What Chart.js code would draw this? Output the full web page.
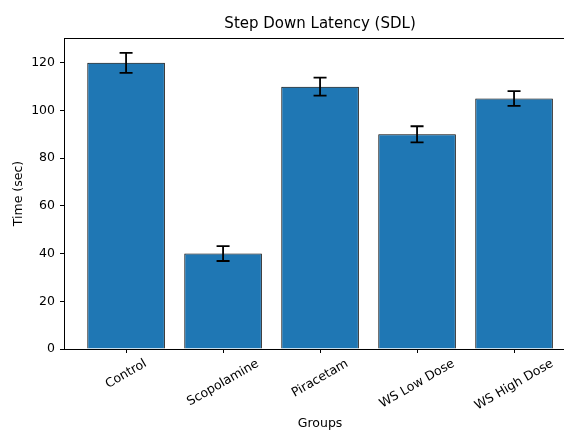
<!DOCTYPE html>
<html>
<head>
<meta charset="utf-8">
<script src="https://cdn.jsdelivr.net/npm/chart.js@4/dist/chart.umd.min.js"></script>
<style>
html,body{margin:0;padding:0;overflow:hidden;background:#fff;}
canvas{display:block;}
</style>
</head>
<body>
<canvas id="c" width="564" height="430"></canvas>
<script>
const categories = ["Control", "Scopolamine", "Piracetam", "WS Low Dose", "WS High Dose"];
const means = [120, 40, 110, 90, 105];
const errors = [4.2, 3.1, 3.8, 3.4, 3.1];
const yTicks = [0, 20, 40, 60, 80, 100, 120];
const chartTitle = "Step Down Latency (SDL)";
const xTitle = "Groups";
const yTitle = "Time (sec)";

Chart.defaults.font.family = "'DejaVu Sans'";
Chart.defaults.color = "#000";

const errorBars = {
  id: 'errorBars',
  afterDatasetsDraw(chart) {
    const ctx = chart.ctx, xs = chart.scales.x, ys = chart.scales.y;
    ctx.save();
    ctx.strokeStyle = '#000';
    ctx.lineWidth = 1.8;
    means.forEach((m, i) => {
      const x = xs.getPixelForValue(i);
      const yt = ys.getPixelForValue(m + errors[i]);
      const yb = ys.getPixelForValue(m - errors[i]);
      ctx.beginPath();
      ctx.moveTo(x, yt); ctx.lineTo(x, yb);
      ctx.moveTo(x - 6.5, yt); ctx.lineTo(x + 6.5, yt);
      ctx.moveTo(x - 6.5, yb); ctx.lineTo(x + 6.5, yb);
      ctx.stroke();
    });
    ctx.restore();
  }
};

// the full axes box runs to x-value 4.64 (beyond the cropped canvas edge);
// centre the title over that full box like the original
const titleCentre = {
  id: 'titleCentre',
  afterLayout(chart) {
    const xs = chart.scales.x, t = chart.titleBlock;
    if (!t) return;
    const fullRight = xs.getPixelForValue(4.64);
    t.left = chart.chartArea.left;
    t.right = fullRight;
    t.width = fullRight - chart.chartArea.left;
  }
};

const spinesAndLabels = {
  id: 'spinesAndLabels',
  afterDraw(chart) {
    const ctx = chart.ctx, a = chart.chartArea, xs = chart.scales.x;
    ctx.save();
    ctx.strokeStyle = '#000';
    ctx.lineWidth = 1;
    ctx.beginPath();
    ctx.moveTo(a.left, a.top + 0.5); ctx.lineTo(a.right, a.top + 0.5);
    ctx.stroke();
    const fs = 12.5;
    ctx.font = fs + "px 'DejaVu Sans'";
    ctx.fillStyle = '#000';
    ctx.textAlign = 'center';
    ctx.textBaseline = 'middle';
    const ang = Math.PI / 6;
    categories.forEach((lab, i) => {
      const x = xs.getPixelForValue(i);
      const w = ctx.measureText(lab).width;
      const h = fs * 1.164;
      const H = w * Math.sin(ang) + h * Math.cos(ang);
      const cy = a.bottom + 7.5 + H / 2;
      ctx.save();
      ctx.translate(x, cy);
      ctx.rotate(-ang);
      ctx.fillText(lab, 0, 0);
      ctx.restore();
    });
    // x axis title centred over the full axes box
    const full = xs.getPixelForValue(4.64);
    ctx.font = "12.5px 'DejaVu Sans'";
    ctx.textBaseline = 'middle';
    ctx.fillText(xTitle, (a.left + full) / 2, 423.5);
    ctx.restore();
  }
};

new Chart(document.getElementById('c'), {
  type: 'bar',
  data: {
    datasets: [{
      data: means.map((v, i) => ({x: i, y: v})),
      backgroundColor: '#1f77b4',
      borderColor: '#000',
      borderWidth: 1,
      categoryPercentage: 1,
      barPercentage: 0.8
    }]
  },
  options: {
    responsive: false,
    animation: false,
    devicePixelRatio: 1,
    layout: {padding: 0},
    plugins: {
      legend: {display: false},
      tooltip: {enabled: false},
      title: {
        display: true, text: chartTitle, fullSize: false,
        font: {size: 15, weight: 'normal'}, color: '#000',
        padding: {top: 15.5, bottom: 4.5}
      }
    },
    scales: {
      x: {
        type: 'linear', min: -0.64, max: 4.515, offset: false,
        afterBuildTicks: s => { s.ticks = categories.map((c, i) => ({value: i})); },
        afterFit: s => { s.height = 81; },
        ticks: {display: false},
        grid: {offset: false, drawOnChartArea: false, drawTicks: true, tickLength: 4, color: '#000', tickWidth: 1},
        border: {display: true, color: '#000', width: 1}
      },
      y: {
        type: 'linear', min: 0, max: 130.4,
        afterBuildTicks: s => { s.ticks = yTicks.map(v => ({value: v})); },
        afterFit: s => { s.width = 64; },
        ticks: {font: {size: 12.5}, color: '#000', padding: 5},
        grid: {drawOnChartArea: false, drawTicks: true, tickLength: 4, color: '#000', tickWidth: 1},
        border: {display: true, color: '#000', width: 1},
        title: {display: true, text: yTitle, font: {size: 12.5}, color: '#000', padding: {top: 11, bottom: 0}}
      }
    }
  },
  plugins: [errorBars, titleCentre, spinesAndLabels]
});
</script>
</body>
</html>
